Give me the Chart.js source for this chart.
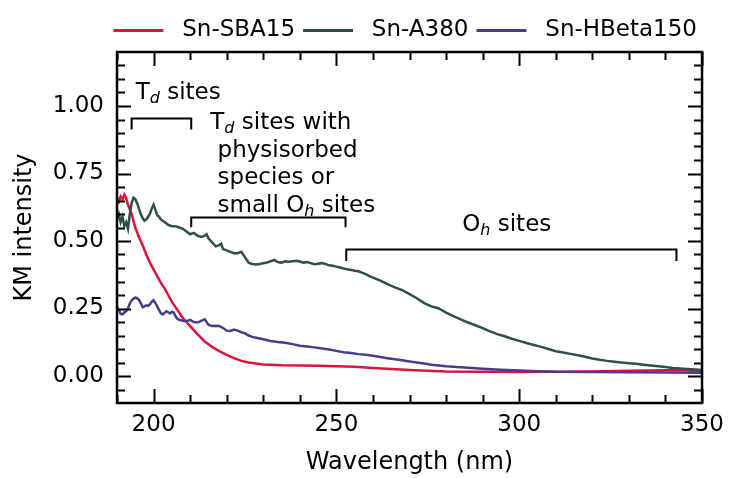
<!DOCTYPE html>
<html><head><meta charset="utf-8">
<script src="https://cdn.jsdelivr.net/npm/chart.js@4"></script>
<style>html,body{margin:0;padding:0;background:#fff}#wrap{width:732px;height:478px}</style>
</head><body><div id="wrap"><canvas id="c" width="732" height="478"></canvas></div>
<script>
const seriesNames = ['Sn-SBA15', 'Sn-A380', 'Sn-HBeta150'];

const wlSBA15 = [190,190.5,191,191.5,192,192.5,193,194,195,196,197,198,199,200,201,202,203,204,205,206,207,208,209,210,212,214,216,218,220,222,224,226,228,230,235,240,245,250,255,260,265,270,275,280,290,300,310,320,330,340,345,350];
const kmSBA15 = [0.66,0.645,0.665,0.655,0.672,0.66,0.635,0.60,0.55,0.515,0.485,0.45,0.42,0.395,0.37,0.345,0.325,0.30,0.275,0.255,0.235,0.215,0.20,0.185,0.155,0.128,0.108,0.092,0.078,0.066,0.056,0.05,0.046,0.043,0.04,0.039,0.038,0.036,0.034,0.03,0.026,0.022,0.019,0.017,0.016,0.015,0.016,0.017,0.019,0.021,0.021,0.018];

const wlA380 = [190,190.5,191,191.5,192,192.5,193,193.5,194,194.5,195,195.5,196,196.5,197,197.5,198,198.5,199,199.5,200,200.5,201,201.5,202,203,204,205,206,207,208,209,210,211,212,213,214,214.5,215,216,217,218,218.5,219,220,221,222,223,224,225,226,227,228,229,230,231,232,233,234,235,236,237,238,239,240,241,242,243,244,245,246,247,248,249,250,251,252,253,254,255,256,257,258,259,260,262,264,266,268,270,272,274,276,278,280,282,284,286,288,290,292,294,296,298,300,302,304,306,308,310,312,314,316,318,320,322,324,326,328,330,332,334,336,338,340,342,344,346,348,350];
const kmA380 = [0.58,0.60,0.57,0.59,0.555,0.57,0.545,0.60,0.64,0.66,0.655,0.64,0.62,0.60,0.585,0.575,0.58,0.59,0.60,0.62,0.635,0.615,0.595,0.59,0.58,0.57,0.56,0.555,0.555,0.55,0.545,0.535,0.525,0.53,0.52,0.515,0.52,0.525,0.51,0.495,0.48,0.485,0.49,0.47,0.465,0.46,0.455,0.455,0.46,0.44,0.42,0.415,0.413,0.415,0.418,0.42,0.425,0.43,0.422,0.42,0.425,0.423,0.425,0.427,0.424,0.42,0.422,0.418,0.414,0.416,0.418,0.415,0.41,0.408,0.405,0.402,0.398,0.395,0.393,0.39,0.388,0.383,0.377,0.37,0.364,0.353,0.34,0.328,0.318,0.303,0.288,0.27,0.258,0.25,0.235,0.222,0.21,0.198,0.188,0.177,0.165,0.155,0.147,0.138,0.13,0.122,0.115,0.108,0.10,0.092,0.087,0.082,0.077,0.071,0.065,0.06,0.056,0.053,0.05,0.047,0.045,0.042,0.039,0.036,0.033,0.03,0.028,0.026,0.024,0.022];

const wlHBeta150 = [190,190.5,191,191.5,192,192.5,193,193.5,194,194.5,195,195.5,196,196.5,197,197.5,198,198.5,199,199.5,200,200.5,201,201.5,202,202.5,203,203.5,204,204.5,205,205.5,206,206.5,207,208,209,210,211,212,213,214,215,216,217,218,219,220,221,222,223,224,225,226,227,228,230,232,234,236,238,240,242,244,246,248,250,252,254,256,258,260,262,264,266,268,270,272,274,276,278,280,283,286,290,295,300,305,310,320,330,340,350];
const kmHBeta150 = [0.255,0.245,0.23,0.228,0.235,0.24,0.25,0.268,0.28,0.287,0.29,0.288,0.282,0.27,0.255,0.258,0.262,0.26,0.265,0.275,0.28,0.27,0.258,0.245,0.232,0.228,0.234,0.24,0.236,0.232,0.238,0.235,0.222,0.212,0.208,0.205,0.203,0.208,0.20,0.198,0.204,0.21,0.19,0.185,0.186,0.185,0.178,0.168,0.167,0.172,0.168,0.162,0.158,0.15,0.145,0.142,0.136,0.13,0.126,0.123,0.118,0.112,0.109,0.106,0.102,0.098,0.093,0.088,0.085,0.081,0.079,0.075,0.07,0.066,0.062,0.058,0.054,0.05,0.046,0.042,0.039,0.036,0.033,0.031,0.027,0.023,0.02,0.018,0.016,0.015,0.014,0.013,0.012];

const xTickValues = [200, 250, 300, 350];
const yTickValues = [0, 0.25, 0.5, 0.75, 1.0];

// Site-range brackets (wavelength range, bracket top / foot in KM units)
const bracketFrom = [194, 210.3, 252.7];
const bracketTo   = [210.3, 252.5, 343];
const bracketTop  = [0.955, 0.589, 0.472];
const bracketFoot = [0.913, 0.551, 0.426];

// Annotation texts: parts [text, kind]
const annotTexts = [
  [[['T'], ['d', 'sub'], [' sites']]],
  [[['T'], ['d', 'sub'], [' sites with']], [[' physisorbed']], [[' species or']], [[' small O'], ['h', 'sub'], [' sites']]],
  [[['O'], ['h', 'sub'], [' sites']]]
];
const annotX = [195.1, 215.5, 284.4];
const annotY = [1.025, 0.914, 0.537];

const colors = ['#dc143c', '#2f4f4f', '#483d8b'];
const FONT = "'DejaVu Sans', sans-serif";

Chart.defaults.font.family = FONT;
Chart.defaults.color = '#000';

const pts = (xs, ys) => xs.map((x, i) => ({x: x, y: ys[i]}));

const axisDecor = {
  id: 'axisDecor',
  afterDatasetsDraw(chart) {
    const {ctx, chartArea: a, scales: {x, y}} = chart;
    ctx.save();
    ctx.strokeStyle = '#000';
    ctx.lineWidth = 2;
    ctx.beginPath();
    for (let k = 19; k <= 35; k++) {
      const v = k * 10;
      const p = Math.round(x.getPixelForValue(v)) + 0.5;
      const len = (k % 5 === 0) ? 14 : 8;
      ctx.moveTo(p, a.bottom); ctx.lineTo(p, a.bottom - len);
      ctx.moveTo(p, a.top); ctx.lineTo(p, a.top + len);
    }
    for (let k = -1; k <= 23; k++) {
      const v = k * 0.05;
      const p = Math.round(y.getPixelForValue(v)) + 0.5;
      const len = (k % 5 === 0) ? 14 : 8;
      ctx.moveTo(a.left, p); ctx.lineTo(a.left + len, p);
      ctx.moveTo(a.right, p); ctx.lineTo(a.right - len, p);
    }
    ctx.stroke();
    ctx.lineWidth = 2.5;
    ctx.strokeRect(a.left, a.top, a.right - a.left, a.bottom - a.top);
    ctx.restore();
  }
};

function drawRich(ctx, parts, x0, y0, size) {
  let cx = x0;
  for (const [t, kind] of parts) {
    if (kind === 'sub') {
      ctx.font = 'italic ' + Math.round(size * 0.7) + 'px ' + FONT;
      ctx.fillText(t, cx, y0 + size * 0.18);
    } else {
      ctx.font = size + 'px ' + FONT;
      ctx.fillText(t, cx, y0);
    }
    cx += ctx.measureText(t).width;
  }
}

const annotations = {
  id: 'annotations',
  afterDatasetsDraw(chart) {
    const {ctx, scales: {x, y}} = chart;
    ctx.save();
    ctx.strokeStyle = '#000';
    ctx.lineWidth = 2;
    for (let i = 0; i < bracketFrom.length; i++) {
      const x1 = x.getPixelForValue(bracketFrom[i]);
      const x2 = x.getPixelForValue(bracketTo[i]);
      const yt = Math.round(y.getPixelForValue(bracketTop[i])) + 0.5;
      const yf = y.getPixelForValue(bracketFoot[i]);
      ctx.beginPath();
      ctx.moveTo(x1, yf); ctx.lineTo(x1, yt); ctx.lineTo(x2, yt); ctx.lineTo(x2, yf);
      ctx.stroke();
    }
    ctx.fillStyle = '#000';
    ctx.textBaseline = 'alphabetic';
    ctx.textAlign = 'left';
    const size = 23, lineGap = 27.5;
    for (let i = 0; i < annotTexts.length; i++) {
      const px = x.getPixelForValue(annotX[i]);
      const py = y.getPixelForValue(annotY[i]);
      annotTexts[i].forEach((line, j) => drawRich(ctx, line, px, py + j * lineGap, size));
    }
    ctx.restore();
  }
};

new Chart(document.getElementById('c').getContext('2d'), {
  type: 'line',
  data: {
    datasets: [
      {label: seriesNames[0], data: pts(wlSBA15, kmSBA15), borderColor: colors[0], backgroundColor: colors[0], order: 2},
      {label: seriesNames[1], data: pts(wlA380, kmA380), borderColor: colors[1], backgroundColor: colors[1], order: 1},
      {label: seriesNames[2], data: pts(wlHBeta150, kmHBeta150), borderColor: colors[2], backgroundColor: colors[2], order: 0}
    ]
  },
  options: {
    responsive: false,
    animation: false,
    layout: {padding: {top: 11, right: 27, bottom: 0, left: 0}},
    elements: {line: {borderWidth: 2.5, tension: 0}, point: {radius: 0}},
    scales: {
      x: {
        type: 'linear', min: 190, max: 350,
        grid: {display: false, drawTicks: false},
        border: {display: false},
        afterBuildTicks: s => { s.ticks = xTickValues.map(v => ({value: v})); },
        afterFit: s => { s.height = 75; },
        ticks: {font: {size: 23}, padding: 8, maxRotation: 0, autoSkip: false},
        title: {display: true, text: 'Wavelength (nm)', font: {size: 24}, padding: {top: 0, bottom: 1}}
      },
      y: {
        type: 'linear', min: -0.1, max: 1.2,
        grid: {display: false, drawTicks: false},
        border: {display: false},
        afterBuildTicks: s => { s.ticks = yTickValues.map(v => ({value: v})); },
        afterFit: s => { s.width = 117; },
        ticks: {font: {size: 23}, padding: 13, callback: v => Number(v).toFixed(2)},
        title: {display: true, text: 'KM intensity', font: {size: 24}, padding: {top: 10, bottom: 0}}
      }
    },
    plugins: {
      legend: {
        position: 'top', align: 'end',
        labels: {
          boxWidth: 50, boxHeight: 3, padding: 8, font: {size: 23},
          sort: (a, b) => a.datasetIndex - b.datasetIndex,
          generateLabels: chart => Chart.defaults.plugins.legend.labels.generateLabels(chart)
            .map(it => Object.assign({}, it, {text: ' ' + it.text, fillStyle: it.strokeStyle, lineWidth: 0}))
        }
      },
      tooltip: {enabled: false}
    }
  },
  plugins: [axisDecor, annotations]
});
</script>
</body></html>
